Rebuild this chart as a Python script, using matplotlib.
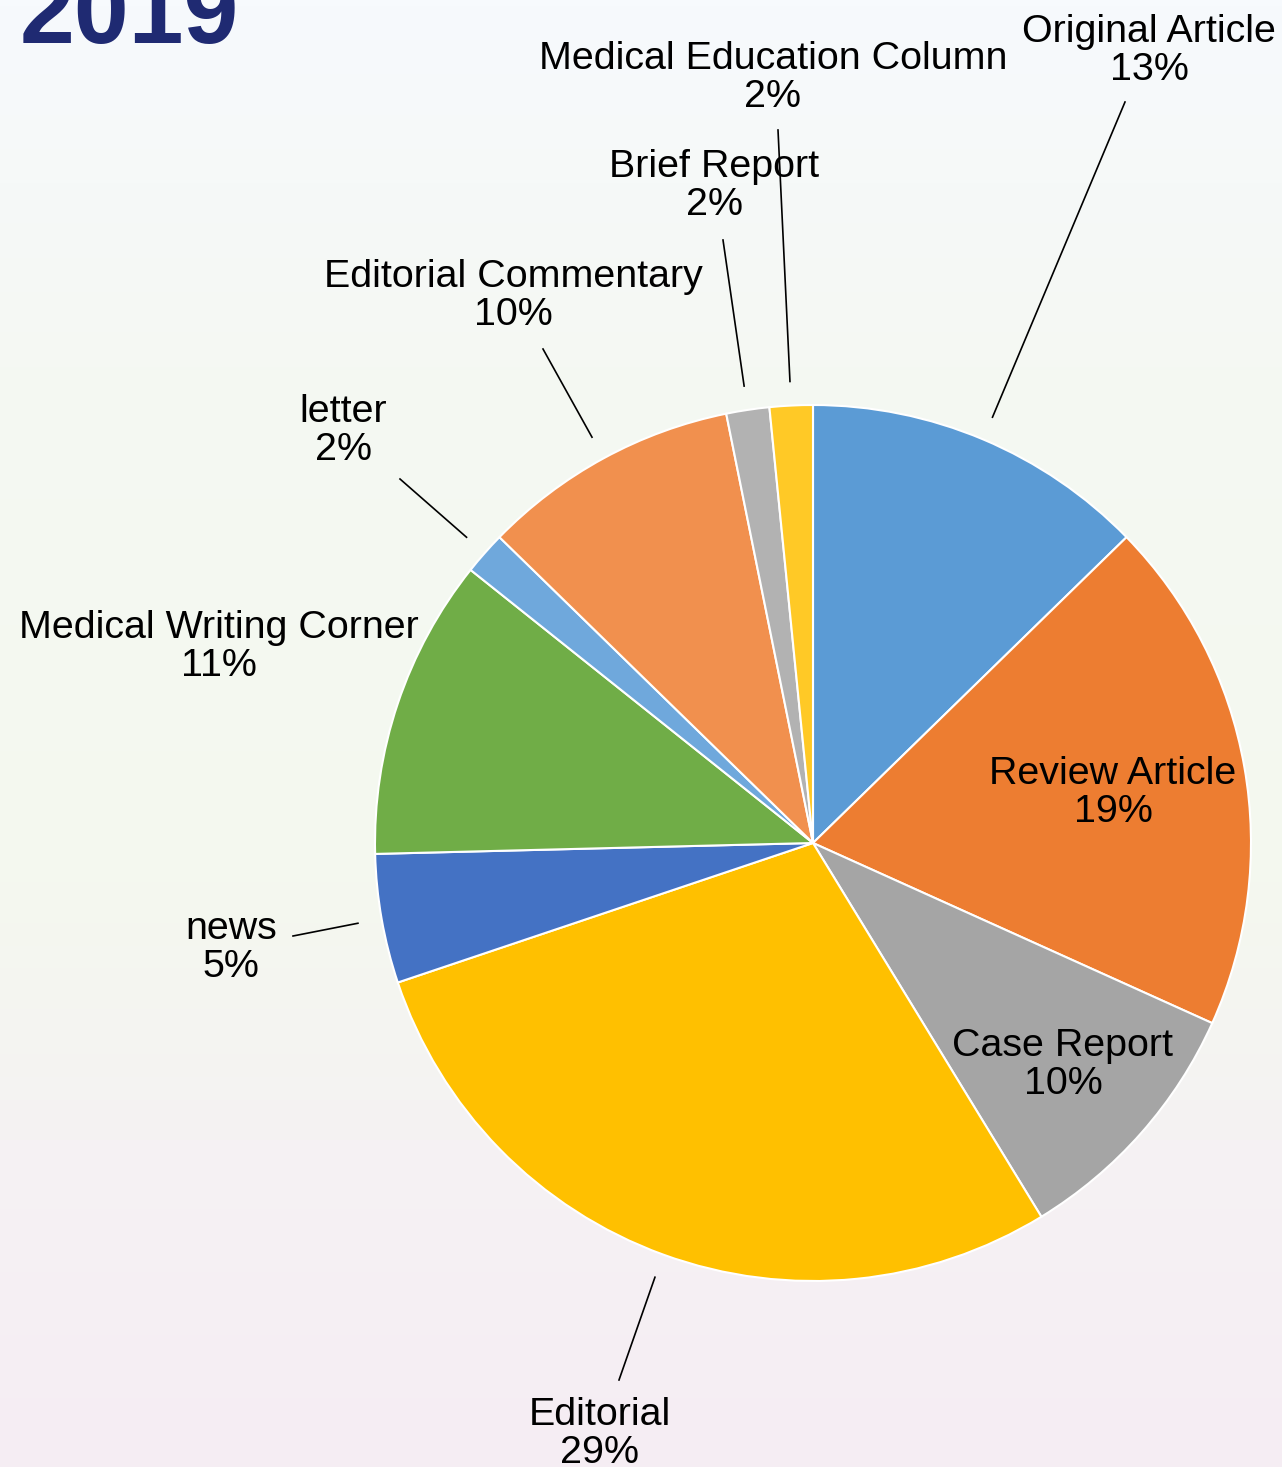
import numpy as np
import matplotlib
matplotlib.use("Agg")
import matplotlib.pyplot as plt
from matplotlib.colors import LinearSegmentedColormap

plt.rcParams['font.family'] = ['Liberation Sans', 'DejaVu Sans']

# article counts per category, clockwise from 12 o'clock
categories = ["Original Article", "Review Article", "Case Report", "Editorial", "news",
              "Medical Writing Corner", "letter", "Editorial Commentary", "Brief Report",
              "Medical Education Column"]
counts = [8, 12, 6, 18, 3, 7, 1, 6, 1, 1]
colors = ["#5B9BD5", "#ED7D31", "#A5A5A5", "#FFC000", "#4472C4",
          "#70AD47", "#6FA8DC", "#F1904E", "#B2B2B2", "#FFC926"]
title = "2019"

W, H = 1282, 1467
cx, cy, R = 813, 843, 438  # pie centre / radius in pixels

fig = plt.figure(figsize=(W / 100, H / 100), dpi=100)

# soft watercolour-like background (top -> bottom)
bg = fig.add_axes([0, 0, 1, 1])
bg.set_axis_off()
cmap = LinearSegmentedColormap.from_list(
    "bg", [(0, "#F7FAFD"), (0.25, "#F5F8F3"), (0.6, "#F4F8EF"), (0.78, "#F5F2F3"), (1, "#F5EDF3")])
grad = np.linspace(0, 1, 256).reshape(-1, 1)
bg.imshow(grad, aspect="auto", cmap=cmap, extent=[0, 1, 0, 1], origin="upper")

ax = fig.add_axes([(cx - R) / W, (H - cy - R) / H, 2 * R / W, 2 * R / H])
wedges, _ = ax.pie(counts, colors=colors, startangle=90, counterclock=False, radius=1,
                   wedgeprops=dict(edgecolor="white", linewidth=1.5))
ax.set_xlim(-1, 1)
ax.set_ylim(-1, 1)
ax.set_aspect("equal")
ax.set_axis_off()

total = sum(counts)
frac = np.cumsum(counts) / total
mids = frac - np.array(counts) / total / 2
pcts = ["%d%%" % round(100 * c / total) for c in counts]


def px(x, y):
    return (x - cx) / R, (cy - y) / R


# label centres (pixels) and leader line ends (None = label inside slice)
label_pos = [(1149, 51), (1113, 793), (1063, 1065), (600, 1434), (231, 948),
             (219, 647), (343, 431), (513, 296), (714, 186), (773, 78)]
line_end = [(1125, 102), None, None, (619, 1380), (293, 936),
            None, (400, 479), (543, 349), (723, 240), (778, 130)]

for i, name in enumerate(categories):
    tx, ty = px(*label_pos[i])
    ax.text(tx, ty, name + "\n" + pcts[i], ha="center", va="center", fontsize=28.4,
            linespacing=1.04, color="black", clip_on=False)
    if line_end[i] is not None:
        ang = np.deg2rad(90 - 360 * mids[i])
        x0, y0 = 1.055 * np.cos(ang), 1.055 * np.sin(ang)
        x1, y1 = px(*line_end[i])
        ax.plot([x0, x1], [y0, y1], color="black", linewidth=1.2, clip_on=False)

fig.text(20 / W, 1 - 43 / H, title, fontsize=71, fontweight="bold", color="#1F2A72",
         ha="left", va="baseline")

fig.savefig("out.png", dpi=100)
